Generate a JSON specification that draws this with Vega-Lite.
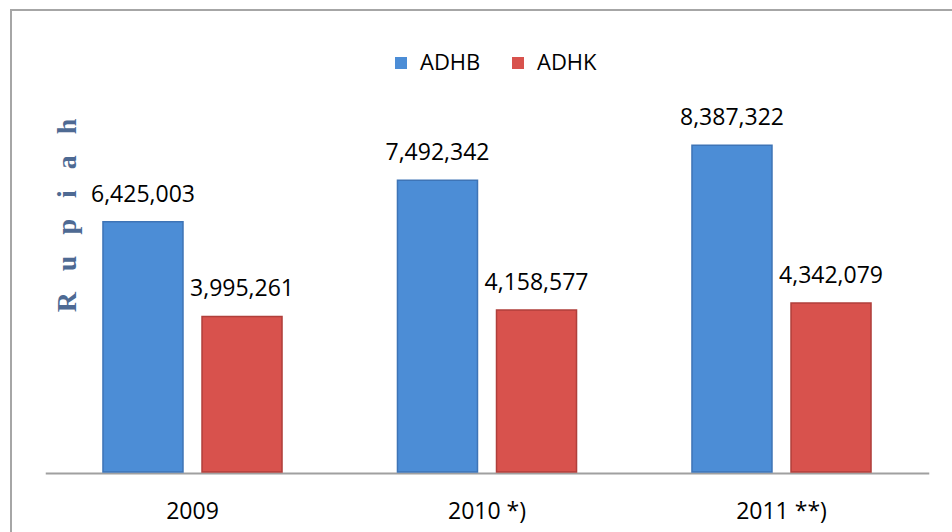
{
  "$schema": "https://vega.github.io/schema/vega-lite/v6.json",
  "width": 945,
  "height": 525,
  "autosize": {"type": "none"},
  "padding": {"left": 11, "top": 10, "right": 0, "bottom": 0},
  "background": "white",
  "config": {
    "view": {"stroke": "#A6A6A6", "strokeWidth": 2},
    "font": "Open Sans"
  },
  "data": {
    "values": [
      {"year": "2009", "series": "ADHB", "value": 6425003},
      {"year": "2009", "series": "ADHK", "value": 3995261},
      {"year": "2010 *)", "series": "ADHB", "value": 7492342},
      {"year": "2010 *)", "series": "ADHK", "value": 4158577},
      {"year": "2011 **)", "series": "ADHB", "value": 8387322},
      {"year": "2011 **)", "series": "ADHK", "value": 4342079}
    ]
  },
  "encoding": {
    "x": {
      "field": "year",
      "type": "nominal",
      "sort": null,
      "scale": {"range": [34.25, 917.75], "paddingInner": 0.392, "paddingOuter": 0.196},
      "axis": {
        "title": null,
        "labelAngle": 0,
        "labelFont": "Open Sans",
        "labelFontSize": 23,
        "labelColor": "#000000",
        "labelBaseline": "alphabetic",
        "labelPadding": 45,
        "ticks": false,
        "tickSize": 0,
        "domainColor": "#A0A0A0",
        "domainWidth": 2,
        "offset": -62,
        "grid": false
      }
    },
    "xOffset": {
      "field": "series",
      "type": "nominal",
      "scale": {"paddingInner": 0.192, "paddingOuter": 0}
    },
    "y": {
      "field": "value",
      "type": "quantitative",
      "scale": {"domain": [0, 10000000], "range": [462, 72.5], "nice": false, "zero": true},
      "axis": {
        "title": "R\u2002\u2005u\u2002\u2005p\u2002\u2005i\u2002\u2005a\u2002\u2005h",
        "titleFont": "Liberation Serif",
        "titleFontWeight": "bold",
        "titleFontSize": 28,
        "titleColor": "#4E6A93",
        "titleAngle": -90,
        "titleAlign": "center",
        "titleBaseline": "alphabetic",
        "titleX": 64,
        "titleY": 205,
        "titleLimit": 400,
        "domain": false,
        "ticks": false,
        "labels": false,
        "grid": false
      }
    }
  },
  "layer": [
    {
      "mark": {"type": "bar", "strokeWidth": 1.5},
      "encoding": {
        "fill": {
          "field": "series",
          "type": "nominal",
          "scale": {"domain": ["ADHB", "ADHK"], "range": ["#4C8DD6", "#D8524D"]},
          "legend": {
            "title": null,
            "orient": "none",
            "direction": "horizontal",
            "legendX": 379,
            "legendY": 42,
            "padding": 0,
            "symbolType": "square",
            "symbolSize": 144,
            "symbolStrokeWidth": 0,
            "labelFont": "Open Sans",
            "labelFontSize": 22,
            "labelColor": "#000000",
            "labelOffset": 8,
            "columnPadding": 26
          }
        },
        "stroke": {
          "field": "series",
          "type": "nominal",
          "scale": {"domain": ["ADHB", "ADHK"], "range": ["#3E74B6", "#B03F3B"]},
          "legend": null
        }
      }
    },
    {
      "mark": {"type": "text", "baseline": "alphabetic", "dy": -20, "fontSize": 23, "font": "Open Sans", "color": "#000000"},
      "encoding": {
        "text": {"field": "value", "type": "quantitative", "format": ",d"}
      }
    }
  ]
}
